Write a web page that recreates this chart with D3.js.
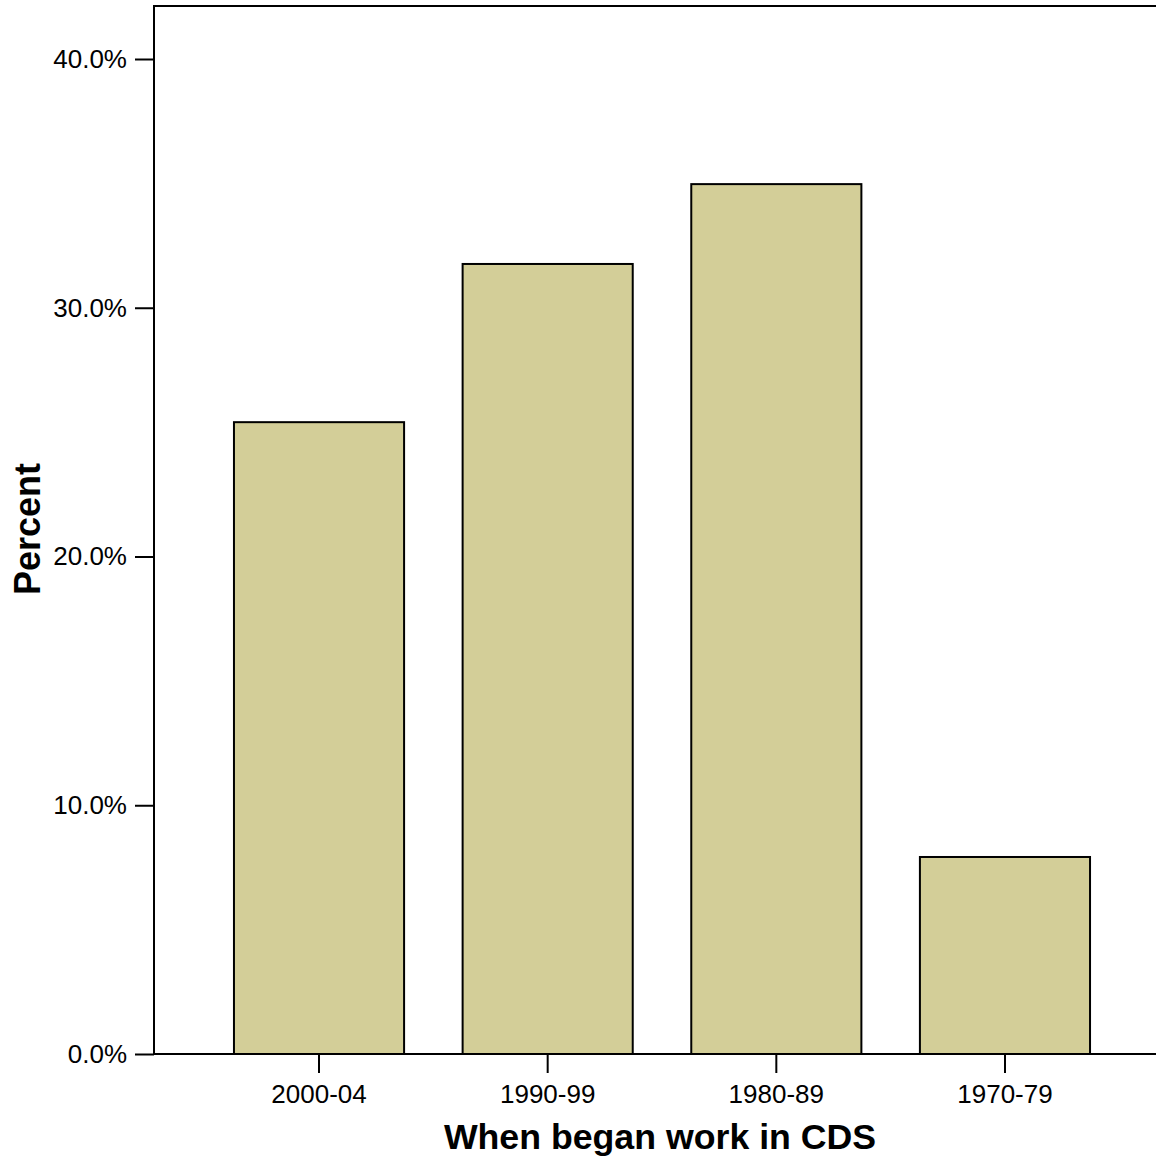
<!DOCTYPE html>
<html><head><meta charset="utf-8">
<script src="https://cdn.jsdelivr.net/npm/d3@7"></script>
<style>body{margin:0;background:#fff}svg{display:block}text{font-family:"Liberation Sans",Arial,sans-serif}</style>
</head><body>
<script>
const categories = ["2000-04","1990-99","1980-89","1970-79"];
const percents = [25.4, 31.76, 34.97, 7.92];
const yTicks = [0, 10, 20, 30, 40];

const W = 1156, H = 1158;
const svg = d3.select("body").append("svg").attr("width", W).attr("height", H);
const plotLeft = 154, plotBottom = 1054, plotTop = 6;

const y = d3.scaleLinear().domain([0, 40]).range([plotBottom, 59]);
const x = d3.scaleBand().domain(categories).range([204.7, 1119.3]).paddingInner(0.256).paddingOuter(0.128);

// frame
svg.append("line").attr("x1", plotLeft).attr("x2", W).attr("y1", plotTop).attr("y2", plotTop).attr("stroke", "#000").attr("stroke-width", 2);

// bars
svg.selectAll("rect.bar").data(percents).join("rect").attr("class","bar")
  .attr("x", (d,i) => x(categories[i]))
  .attr("width", x.bandwidth())
  .attr("y", d => y(d))
  .attr("height", d => y(0) - y(d))
  .attr("fill", "#d3ce98").attr("stroke", "#000").attr("stroke-width", 2);

// y axis
const yAxis = d3.axisLeft(y).tickValues(yTicks).tickFormat(d => d.toFixed(1) + "%").tickSizeInner(19).tickSizeOuter(0).tickPadding(8);
const gy = svg.append("g").attr("transform", `translate(${plotLeft},0)`).call(yAxis);
gy.select(".domain").remove();
gy.selectAll(".tick line").attr("stroke-width", 2);
gy.selectAll(".tick text").attr("font-size", 26).attr("fill", "#000").attr("font-family", '"Liberation Sans",Arial,sans-serif');
svg.append("line").attr("x1", plotLeft).attr("x2", plotLeft).attr("y1", plotTop - 1).attr("y2", plotBottom + 1).attr("stroke", "#000").attr("stroke-width", 2);

// x axis
const xAxis = d3.axisBottom(x).tickSizeInner(19).tickSizeOuter(0).tickPadding(12);
const gx = svg.append("g").attr("transform", `translate(0,${plotBottom})`).call(xAxis);
gx.select(".domain").remove();
gx.selectAll(".tick line").attr("stroke-width", 2);
gx.selectAll(".tick text").attr("font-size", 26).attr("fill", "#000").attr("font-family", '"Liberation Sans",Arial,sans-serif');
svg.append("line").attr("x1", plotLeft - 1).attr("x2", W).attr("y1", plotBottom).attr("y2", plotBottom).attr("stroke", "#000").attr("stroke-width", 2);

// titles
svg.append("text").attr("x", 660).attr("y", 1149).attr("text-anchor", "middle")
  .attr("font-size", 35.7).attr("font-weight", "bold").text("When began work in CDS");
svg.append("text").attr("transform", "translate(40,529) rotate(-90)").attr("text-anchor", "middle")
  .attr("font-size", 36).attr("font-weight", "bold").text("Percent");
</script>
</body></html>
